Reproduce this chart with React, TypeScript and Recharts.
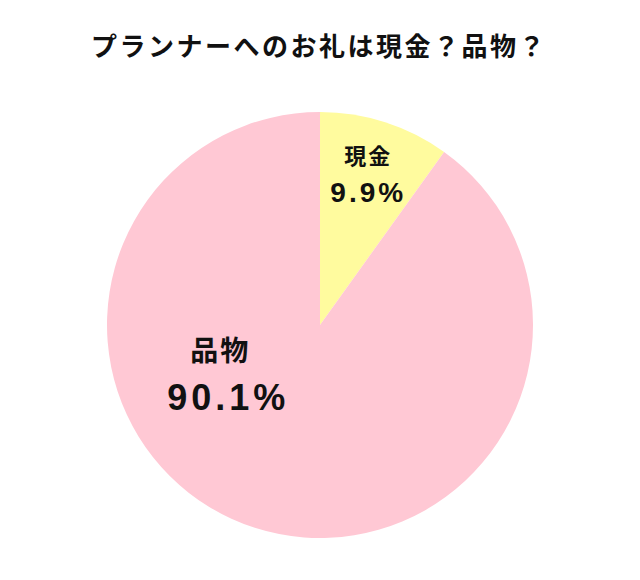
import { PieChart, Pie, Cell, Customized } from "recharts";

const CATEGORIES = ["現金", "品物"];
const SHARES = [9.9, 90.1];
const COLORS = ["#FFFB9E", "#FFC8D4"];
const TITLE = "プランナーへのお礼は現金？品物？";

const FONT = '"Liberation Sans", "Noto Sans CJK JP", sans-serif';
const RAD = Math.PI / 180;

const data = CATEGORIES.map((name, i) => ({ name, value: SHARES[i] }));

// label placement: fraction of radius + angle (null = slice mid angle)
const LABEL_POS = [
  { r: 0.74, angle: null as number | null, nameSize: 22, valueSize: 28, gap: 36, nameDx: 0, spacing: 3 },
  { r: 0.49, angle: 208.5, nameSize: 28, valueSize: 36, gap: 46, nameDx: -8, spacing: 4 },
];

const renderLabel = (props: any) => {
  const { cx, cy, outerRadius, midAngle, index, name, value } = props;
  const pos = LABEL_POS[index];
  const ang = pos.angle ?? midAngle;
  const x = cx + outerRadius * pos.r * Math.cos(ang * RAD);
  const y = cy - outerRadius * pos.r * Math.sin(ang * RAD);
  return (
    <g key={`lbl-${index}`}>
      <text
        x={x + pos.nameDx}
        y={y - pos.gap / 2}
        textAnchor="middle"
        dominantBaseline="central"
        fontFamily={FONT}
        fontWeight="bold"
        fontSize={pos.nameSize}
        fill="#111"
        letterSpacing={2}
      >
        {name}
      </text>
      <text
        x={x}
        y={y + pos.gap / 2}
        textAnchor="middle"
        dominantBaseline="central"
        fontFamily={FONT}
        fontWeight="bold"
        fontSize={pos.valueSize}
        fill="#111"
        letterSpacing={pos.spacing}
      >
        {`${value}%`}
      </text>
    </g>
  );
};

const Title = () => (
  <text
    x={319}
    y={47}
    textAnchor="middle"
    dominantBaseline="central"
    fontFamily={FONT}
    fontWeight="bold"
    fontSize={26}
    letterSpacing={2.5}
    fill="#111"
  >
    {TITLE}
  </text>
);

export default function App() {
  return (
    <div style={{ position: "absolute", left: 0, top: 0, background: "#fff" }}>
      <PieChart width={640} height={580} margin={{ top: 0, right: 0, bottom: 0, left: 0 }}>
        <Customized component={<Title />} />
        <Pie
          data={data}
          dataKey="value"
          nameKey="name"
          cx={320}
          cy={325}
          outerRadius={213}
          startAngle={90}
          endAngle={-270}
          stroke="none"
          labelLine={false}
          label={renderLabel}
          isAnimationActive={false}
        >
          {data.map((d, i) => (
            <Cell key={d.name} fill={COLORS[i]} />
          ))}
        </Pie>
      </PieChart>
    </div>
  );
}
